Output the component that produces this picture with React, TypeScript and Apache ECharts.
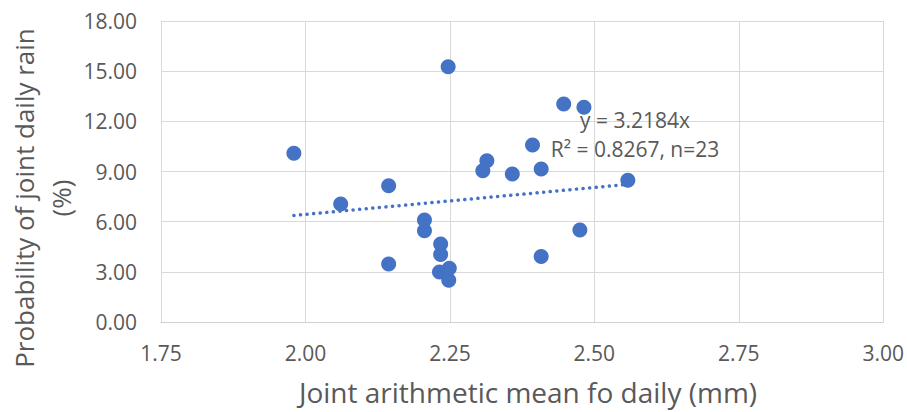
import React, { useEffect, useRef } from "react";
import * as echarts from "echarts";

const xValues = [1.98, 2.061, 2.144, 2.144, 2.206, 2.206, 2.234, 2.234, 2.232, 2.249, 2.248, 2.247, 2.307, 2.314, 2.358, 2.393, 2.408, 2.408, 2.447, 2.482, 2.475, 2.558];
const yValues = [10.09, 7.06, 8.15, 3.47, 6.1, 5.46, 4.66, 4.03, 2.99, 3.22, 2.5, 15.27, 9.05, 9.65, 8.85, 10.59, 9.15, 3.91, 13.04, 12.84, 5.5, 8.47];
const slope = 3.2184;
const xTicks = ["1.75", "2.00", "2.25", "2.50", "2.75", "3.00"];
const yTicks = ["0.00", "3.00", "6.00", "9.00", "12.00", "15.00", "18.00"];
const xTitle = "Joint arithmetic mean fo daily (mm)";
const yTitle = "Probability of joint daily rain\n(%)";
const eqLines = ["y = 3.2184x", "R\u00b2 = 0.8267, n=23"];

const FONT = "'Open Sans', sans-serif";
const GREY = "#595959";
const BLUE = "#4472C4";

export default function App() {
  const ref = useRef<HTMLDivElement>(null);
  useEffect(() => {
    if (!ref.current) return;
    const chart = echarts.init(ref.current, null, { renderer: "svg" });
    const points = xValues.map((x, i) => [x, yValues[i]]);
    const xMin = Math.min(...xValues);
    const xMax = Math.max(...xValues);
    const trend = [
      [xMin, slope * xMin],
      [xMax, slope * xMax],
    ];
    chart.setOption({
      animation: false,
      backgroundColor: "#ffffff",
      grid: { left: 161, right: 23, top: 21, bottom: 90, containLabel: false },
      xAxis: {
        type: "value",
        min: 1.75,
        max: 3.0,
        interval: 0.25,
        axisLine: { show: true, lineStyle: { color: "#d0d0d0", width: 1 } },
        axisTick: { show: false },
        splitLine: { show: true, lineStyle: { color: "#d9d9d9", width: 1 } },
        axisLabel: {
          color: GREY,
          fontFamily: FONT,
          fontSize: 21,
          margin: 20,
          formatter: (v: number) => xTicks[Math.round((v - 1.75) / 0.25)] ?? v.toFixed(2),
        },
      },
      yAxis: {
        type: "value",
        min: 0,
        max: 18,
        interval: 3,
        axisLine: { show: true, lineStyle: { color: "#d9d9d9", width: 1 } },
        axisTick: { show: false },
        splitLine: { show: true, lineStyle: { color: "#d9d9d9", width: 1 } },
        axisLabel: {
          color: GREY,
          fontFamily: FONT,
          fontSize: 21,
          margin: 24,
          formatter: (v: number) => yTicks[Math.round(v / 3)] ?? v.toFixed(2),
        },
      },
      series: [
        {
          type: "line",
          data: trend,
          symbol: "none",
          lineStyle: { color: BLUE, width: 3.5, type: [0.1, 6.5], cap: "round" },
          z: 2,
        },
        {
          type: "scatter",
          data: points,
          symbol: "circle",
          symbolSize: 15,
          itemStyle: { color: BLUE, opacity: 1 },
          z: 3,
        },
      ],
      graphic: [
        {
          type: "text",
          x: 635,
          y: 120,
          z: 10,
          style: {
            text: eqLines[0],
            fill: GREY,
            font: `21px ${FONT}`,
            textAlign: "center",
            textVerticalAlign: "middle",
          },
        },
        {
          type: "text",
          x: 635,
          y: 149,
          z: 10,
          style: {
            text: eqLines[1],
            fill: GREY,
            font: `21px ${FONT}`,
            textAlign: "center",
            textVerticalAlign: "middle",
          },
        },
        {
          type: "text",
          x: 528,
          y: 392,
          style: {
            text: xTitle,
            fill: GREY,
            font: `28px ${FONT}`,
            textAlign: "center",
            textVerticalAlign: "middle",
          },
        },
        {
          type: "text",
          x: 42,
          y: 198,
          rotation: Math.PI / 2,
          style: {
            text: yTitle,
            fill: GREY,
            font: `26px ${FONT}`,
            lineHeight: 37,
            textAlign: "center",
            textVerticalAlign: "middle",
          },
        },
      ],
    });
    return () => chart.dispose();
  }, []);
  return (
    <div
      ref={ref}
      style={{ position: "absolute", left: 0, top: 0, width: 907, height: 412 }}
    />
  );
}
